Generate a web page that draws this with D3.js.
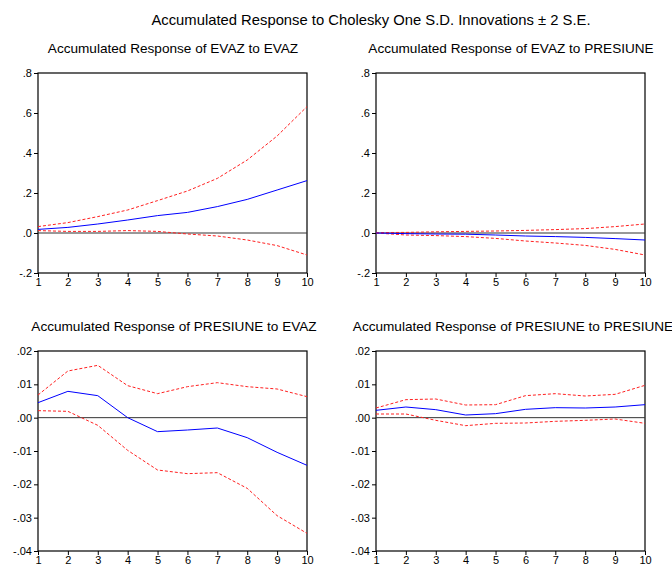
<!DOCTYPE html>
<html lang="en">
<head>
<meta charset="UTF-8">
<title>Accumulated Response</title>
<script src="https://d3js.org/d3.v7.min.js"></script>
<style>
    body { margin: 0; padding: 0; background: #fff; font-family: "Liberation Sans", Arial, sans-serif; }
    svg text { fill: #000; }
</style>
</head>
<body>
<svg id="chart"></svg>
<script>
const periods = [1, 2, 3, 4, 5, 6, 7, 8, 9, 10];

// EVAZ to EVAZ
const evazEvaz = [0.018, 0.028, 0.045, 0.065, 0.087, 0.103, 0.132, 0.168, 0.215, 0.262];
const evazEvazHi = [0.032, 0.052, 0.082, 0.115, 0.162, 0.21, 0.273, 0.365, 0.485, 0.632];
const evazEvazLo = [0.012, 0.008, 0.008, 0.012, 0.008, -0.005, -0.015, -0.035, -0.063, -0.11];

// EVAZ to PRESIUNE
const evazPres = [0, -0.003, -0.005, -0.006, -0.01, -0.015, -0.018, -0.022, -0.028, -0.035];
const evazPresHi = [0.002, 0.003, 0.006, 0.008, 0.01, 0.013, 0.017, 0.022, 0.032, 0.045];
const evazPresLo = [0, -0.01, -0.013, -0.018, -0.027, -0.04, -0.05, -0.062, -0.082, -0.11];

// PRESIUNE to EVAZ
const presEvaz = [0.0045, 0.0079, 0.0066, 0.0, -0.0042, -0.0037, -0.0031, -0.006, -0.0104, -0.0143];
const presEvazHi = [0.0068, 0.014, 0.0157, 0.0096, 0.0072, 0.0093, 0.0105, 0.0093, 0.0086, 0.0063];
const presEvazLo = [0.0021, 0.0019, -0.0023, -0.0098, -0.0157, -0.0168, -0.0165, -0.0212, -0.0294, -0.0347];

// PRESIUNE to PRESIUNE
const presPres = [0.0022, 0.0032, 0.0024, 0.0008, 0.0012, 0.0025, 0.003, 0.0029, 0.0032, 0.0039];
const presPresHi = [0.0029, 0.0054, 0.0056, 0.0038, 0.0039, 0.0066, 0.0072, 0.0065, 0.007, 0.0097];
const presPresLo = [0.0011, 0.0011, -0.0008, -0.0024, -0.0017, -0.0016, -0.0011, -0.0008, -0.0004, -0.0017];

const topTicks = [-0.2, 0, 0.2, 0.4, 0.6, 0.8];
const topTickLabels = ["-.2", ".0", ".2", ".4", ".6", ".8"];
const bottomTicks = [-0.04, -0.03, -0.02, -0.01, 0, 0.01, 0.02];
const bottomTickLabels = ["-.04", "-.03", "-.02", "-.01", ".00", ".01", ".02"];

const mainTitle = "Accumulated Response to Cholesky One S.D. Innovations \u00B1 2 S.E.";

const panels = [
    { title: "Accumulated Response of EVAZ to EVAZ", mid: evazEvaz, hi: evazEvazHi, lo: evazEvazLo,
      ticks: topTicks, labels: topTickLabels, left: 38, top: 73, titleX: 173, titleY: 53 },
    { title: "Accumulated Response of EVAZ to PRESIUNE", mid: evazPres, hi: evazPresHi, lo: evazPresLo,
      ticks: topTicks, labels: topTickLabels, left: 376, top: 73, titleX: 511, titleY: 53 },
    { title: "Accumulated Response of PRESIUNE to EVAZ", mid: presEvaz, hi: presEvazHi, lo: presEvazLo,
      ticks: bottomTicks, labels: bottomTickLabels, left: 38, top: 351, titleX: 174, titleY: 331 },
    { title: "Accumulated Response of PRESIUNE to PRESIUNE", mid: presPres, hi: presPresHi, lo: presPresLo,
      ticks: bottomTicks, labels: bottomTickLabels, left: 376, top: 351, titleX: 513, titleY: 331 }
];

const width = 672, height = 568;
const plotW = 269, plotH = 200;

const svg = d3.select("#chart").attr("width", width).attr("height", height);

svg.append("text")
    .attr("x", 371).attr("y", 25)
    .attr("text-anchor", "middle")
    .attr("font-size", "14.8px")
    .text(mainTitle);

panels.forEach(p => {
    const g = svg.append("g").attr("transform", `translate(${p.left},${p.top})`);

    const x = d3.scaleLinear().domain([1, 10]).range([0, plotW]);
    const y = d3.scaleLinear().domain(d3.extent(p.ticks)).range([plotH, 0]);

    svg.append("text")
        .attr("x", p.titleX).attr("y", p.titleY)
        .attr("text-anchor", "middle")
        .attr("font-size", "13.6px")
        .text(p.title);

    // frame
    g.append("rect")
        .attr("width", plotW).attr("height", plotH)
        .attr("fill", "none").attr("stroke", "#000").attr("stroke-width", 1.2);

    // zero line
    g.append("line")
        .attr("x1", 0).attr("x2", plotW)
        .attr("y1", y(0)).attr("y2", y(0))
        .attr("stroke", "#333").attr("stroke-width", 1);

    const line = d3.line().x((d, i) => x(periods[i])).y(d => y(d));

    [p.hi, p.lo].forEach(s => {
        g.append("path").datum(s)
            .attr("d", line)
            .attr("fill", "none")
            .attr("stroke", "#ff2020")
            .attr("stroke-width", 1)
            .attr("stroke-dasharray", "3,2");
    });

    g.append("path").datum(p.mid)
        .attr("d", line)
        .attr("fill", "none")
        .attr("stroke", "#0000ff")
        .attr("stroke-width", 1);

    const yAxis = g.append("g")
        .call(d3.axisLeft(y).tickValues(p.ticks).tickSize(4).tickPadding(2)
            .tickFormat((d, i) => p.labels[i]));
    yAxis.select(".domain").remove();
    yAxis.selectAll("line").attr("stroke", "#000");
    yAxis.selectAll("text").attr("font-size", "11px").attr("font-family", "Liberation Sans, Arial, sans-serif");

    const xAxis = g.append("g")
        .attr("transform", `translate(0,${plotH})`)
        .call(d3.axisBottom(x).tickValues(periods).tickSize(4).tickPadding(1).tickFormat(d3.format("d")));
    xAxis.select(".domain").remove();
    xAxis.selectAll("line").attr("stroke", "#000");
    xAxis.selectAll("text").attr("font-size", "11px").attr("font-family", "Liberation Sans, Arial, sans-serif");
});
</script>
</body>
</html>
